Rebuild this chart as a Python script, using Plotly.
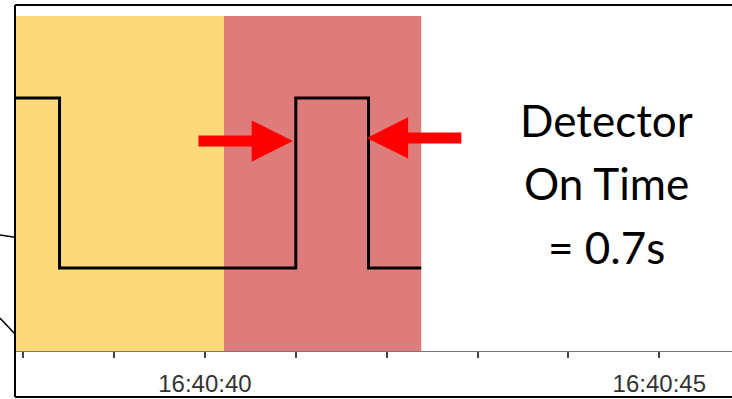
import plotly.graph_objects as go

# detector signal (seconds after 16:40:00) and state 1=on, 0=off
t_signal = [37.91, 38.40, 41.00, 41.80, 42.38]
state = [1, 0, 1, 0, 0]

# shaded phases
phase_start = [37.91, 40.21]
phase_end = [40.21, 42.38]
phase_colors = ["#FED97A", "#DE7B7B"]

tick_secs = [38, 39, 40, 41, 42, 43, 44, 45]
tick_text = ["", "", "16:40:40", "", "", "", "", "16:40:45"]

note_lines = ["Detector", "On Time", "= 0.7s"]

fig = go.Figure()

for x0, x1, c in zip(phase_start, phase_end, phase_colors):
    fig.add_vrect(x0=x0, x1=x1, y0=0, y1=0.968, fillcolor=c, opacity=1,
                  line_width=0, layer="below")

fig.add_trace(go.Scatter(
    x=t_signal, y=state,
    mode="lines",
    line=dict(color="black", width=3, shape="hv"),
    hoverinfo="skip",
    showlegend=False
))

# red arrows pointing at the on-pulse edges
fig.add_annotation(x=40.968, y=0.747, ax=39.912, ay=0.747, xref="x", yref="y",
                   axref="x", ayref="y", text="", showarrow=True,
                   arrowhead=2, arrowwidth=11, arrowsize=0.75, arrowcolor="#FF0000")
fig.add_annotation(x=41.782, y=0.765, ax=42.838, ay=0.765, xref="x", yref="y",
                   axref="x", ayref="y", text="", showarrow=True,
                   arrowhead=2, arrowwidth=11, arrowsize=0.75, arrowcolor="#FF0000")

for line, yv in zip(note_lines, [0.87, 0.50, 0.124]):
    fig.add_annotation(x=44.42, y=yv, xref="x", yref="y", text=line, showarrow=False,
                       font=dict(family="Lato", size=44, color="black"),
                       xanchor="center", yanchor="middle")

# frame around the figure and callout lines on the left
frame = dict(color="black", width=2)
fig.add_shape(type="line", xref="paper", yref="paper", x0=0, x1=0, y0=1, y1=-0.133, line=frame)
fig.add_shape(type="line", xref="paper", yref="paper", x0=0, x1=1, y0=1, y1=1, line=frame)
fig.add_shape(type="line", xref="paper", yref="paper", x0=0, x1=1, y0=-0.133, y1=-0.133, line=frame)
fig.add_shape(type="line", xref="paper", yref="paper", x0=-0.021, x1=0, y0=0.335, y1=0.329,
              line=dict(color="black", width=1.5))
fig.add_shape(type="line", xref="paper", yref="paper", x0=-0.021, x1=0, y0=0.095, y1=0.049,
              line=dict(color="black", width=1.5))

fig.update_layout(
    width=732, height=399,
    margin=dict(l=15, r=0, t=5, b=48),
    paper_bgcolor="white",
    plot_bgcolor="white",
    showlegend=False,
    xaxis=dict(range=[37.91, 45.80], tickvals=tick_secs, ticktext=tick_text,
               showgrid=False, zeroline=False, showline=True, linecolor="#777777",
               linewidth=1, ticks="outside", ticklen=6, tickwidth=2, tickcolor="#444444",
               ticklabelstandoff=5,
               tickfont=dict(family="Liberation Sans", size=24, color="#333333")),
    yaxis=dict(range=[-0.488, 1.547], visible=False, showgrid=False, zeroline=False),
)

fig.write_html("out.html", config={"displayModeBar": False},
               post_script="document.body.style.margin='0';")
